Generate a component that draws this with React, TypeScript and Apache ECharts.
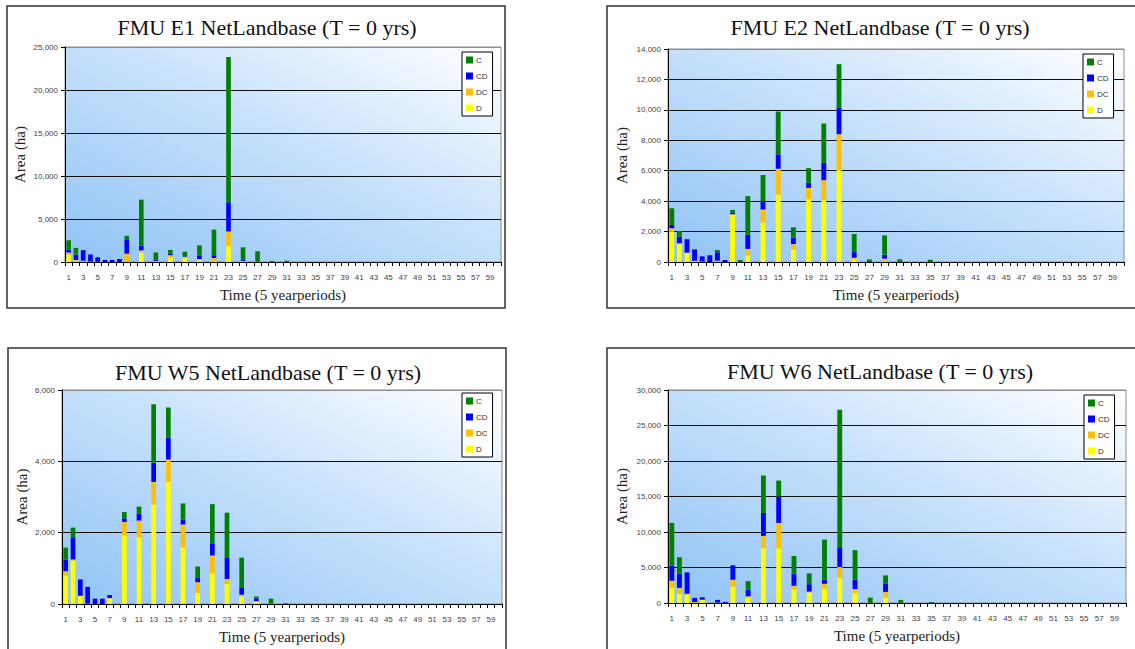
import React, { useEffect, useRef } from "react";
import * as echarts from "echarts";

// Five-year planning periods shown on every category axis
const PERIODS = [
  "1", "2", "3", "4", "5", "6", "7", "8", "9", "10",
  "11", "12", "13", "14", "15", "16", "17", "18", "19", "20",
  "21", "22", "23", "24", "25", "26", "27", "28", "29", "30",
  "31", "32", "33", "34", "35", "36", "37", "38", "39", "40",
  "41", "42", "43", "44", "45", "46", "47", "48", "49", "50",
  "51", "52", "53", "54", "55", "56", "57", "58", "59", "60",
];

const LEGEND_ORDER = ["C", "CD", "DC", "D"];
const STACK_ORDER = ["D", "DC", "CD", "C"];
const COLORS: Record<string, string> = {
  C: "#008000",
  CD: "#0000ff",
  DC: "#ffc000",
  D: "#ffff00",
};

// FMU E1 area (ha) by period; later periods are empty
const E1_D = [850, 60, 30, 0, 0, 0, 0, 0, 20, 0, 1100, 0, 20, 0, 550, 0, 450, 0, 200, 0, 70, 0, 1850, 0, 40, 0, 0, 0, 0, 0, 0, 0, 0, 0, 0];
const E1_DC = [250, 180, 120, 50, 30, 0, 0, 0, 950, 0, 250, 0, 100, 0, 250, 0, 150, 0, 150, 0, 400, 0, 1700, 0, 80, 0, 30, 0, 0, 0, 0, 0, 0, 0, 0];
const E1_CD = [330, 620, 1230, 820, 520, 230, 240, 350, 1600, 0, 550, 0, 110, 0, 150, 0, 50, 0, 360, 0, 320, 0, 3400, 0, 160, 0, 0, 0, 0, 0, 0, 0, 0, 0, 0];
const E1_C = [1100, 780, 0, 0, 0, 0, 0, 0, 470, 0, 5350, 0, 880, 0, 450, 0, 550, 0, 1230, 0, 2980, 0, 16900, 0, 1430, 0, 1220, 0, 120, 0, 150, 0, 0, 0, 0];

// FMU E2
const E2_D = [1980, 1180, 600, 50, 30, 0, 30, 0, 3110, 0, 430, 0, 2590, 0, 4420, 0, 810, 0, 4130, 0, 4050, 0, 6040, 0, 150, 0, 0, 0, 20, 0, 0, 0, 0, 0, 0];
const E2_DC = [240, 50, 15, 30, 0, 0, 60, 0, 30, 0, 430, 0, 860, 0, 1710, 0, 370, 0, 740, 0, 1330, 0, 2360, 0, 130, 0, 0, 0, 200, 0, 0, 0, 0, 0, 0];
const E2_CD = [220, 430, 880, 750, 340, 440, 550, 130, 110, 0, 930, 0, 530, 0, 950, 0, 420, 0, 340, 0, 1140, 0, 1720, 0, 370, 0, 0, 0, 260, 0, 30, 0, 0, 0, 50];
const E2_C = [1090, 380, 0, 0, 0, 0, 150, 0, 170, 130, 2540, 0, 1740, 0, 2810, 0, 680, 0, 960, 0, 2580, 0, 2880, 0, 1190, 0, 170, 0, 1270, 0, 150, 0, 0, 0, 100];

// FMU W5
const W5_D = [800, 1210, 230, 10, 0, 0, 150, 0, 1920, 0, 1870, 0, 2790, 0, 3420, 0, 1590, 0, 310, 0, 860, 0, 560, 0, 210, 0, 70, 0, 0, 0, 0];
const W5_DC = [120, 40, 0, 0, 0, 0, 20, 0, 380, 0, 470, 0, 630, 0, 630, 0, 640, 0, 300, 0, 500, 0, 140, 0, 50, 0, 10, 0, 10, 0, 0];
const W5_CD = [330, 600, 460, 470, 150, 150, 80, 0, 100, 0, 190, 0, 540, 0, 620, 0, 140, 0, 140, 0, 340, 0, 590, 0, 190, 0, 80, 0, 0, 0, 0];
const W5_C = [330, 290, 0, 0, 0, 0, 0, 0, 180, 0, 200, 0, 1640, 0, 840, 0, 450, 0, 300, 0, 1100, 0, 1270, 0, 850, 0, 50, 0, 140, 0, 20];

// FMU W6
const W6_D = [2190, 1300, 1130, 0, 470, 0, 0, 0, 2320, 0, 760, 0, 7710, 0, 7710, 0, 1900, 0, 1470, 0, 2030, 0, 3530, 0, 1390, 0, 0, 0, 760, 0, 0, 0, 0, 0, 0];
const W6_DC = [950, 830, 180, 140, 0, 0, 60, 0, 950, 0, 190, 0, 1740, 0, 3570, 0, 520, 0, 140, 0, 670, 0, 1550, 0, 570, 0, 20, 0, 800, 0, 0, 0, 0, 0, 0];
const W6_CD = [2120, 1980, 3000, 570, 330, 0, 370, 140, 1940, 0, 900, 0, 3240, 0, 3710, 0, 1720, 0, 1040, 0, 580, 0, 2770, 0, 1340, 0, 0, 0, 1140, 0, 30, 0, 0, 0, 50];
const W6_C = [6020, 2340, 0, 0, 0, 0, 0, 0, 140, 0, 1230, 0, 5260, 0, 2260, 0, 2480, 0, 1520, 0, 5650, 0, 19360, 0, 4150, 0, 740, 0, 1190, 0, 400, 0, 0, 0, 100];

const Y_NAME = "Area (ha)";
const X_NAME = "Time (5 yearperiods)";

type Panel = {
  title: string;
  series: number[][]; // D, DC, CD, C
  max: number;
  step: number;
  grid: { left: number; top: number; width: number; height: number };
  frame: [number, number, number, number];
  titlePos: [number, number];
  legendPos: [number, number];
  yNameGap: number;
};

const PANELS: Panel[] = [
  {
    title: "FMU E1 NetLandbase (T = 0 yrs)",
    series: [E1_D, E1_DC, E1_CD, E1_C],
    max: 25000,
    step: 5000,
    grid: { left: 65, top: 47, width: 436, height: 215 },
    frame: [7, 6, 498, 302],
    titlePos: [267, 27],
    legendPos: [462, 52],
    yNameGap: 38,
  },
  {
    title: "FMU E2 NetLandbase (T = 0 yrs)",
    series: [E2_D, E2_DC, E2_CD, E2_C],
    max: 14000,
    step: 2000,
    grid: { left: 668, top: 49, width: 456, height: 213 },
    frame: [607, 6, 560, 302],
    titlePos: [880, 27],
    legendPos: [1083, 54],
    yNameGap: 39,
  },
  {
    title: "FMU W5 NetLandbase (T = 0 yrs)",
    series: [W5_D, W5_DC, W5_CD, W5_C],
    max: 6000,
    step: 2000,
    grid: { left: 62, top: 390, width: 440, height: 214 },
    frame: [8, 348, 498, 330],
    titlePos: [268, 372],
    legendPos: [462, 393],
    yNameGap: 33,
  },
  {
    title: "FMU W6 NetLandbase (T = 0 yrs)",
    series: [W6_D, W6_DC, W6_CD, W6_C],
    max: 30000,
    step: 5000,
    grid: { left: 668, top: 390, width: 458, height: 213 },
    frame: [607, 348, 560, 330],
    titlePos: [880, 371],
    legendPos: [1084, 395],
    yNameGap: 39,
  },
];

const TICK_FONT = "Liberation Sans";
const TEXT_FONT = "Liberation Serif";

function buildOption() {
  const grids: any[] = [];
  const xAxes: any[] = [];
  const yAxes: any[] = [];
  const series: any[] = [];
  const legends: any[] = [];
  const graphics: any[] = [];

  PANELS.forEach((p, i) => {
    graphics.push({
      type: "rect",
      shape: { x: p.frame[0], y: p.frame[1], width: p.frame[2], height: p.frame[3] },
      style: { fill: "none", stroke: "#333", lineWidth: 1.5 },
      z: -10,
    });
    graphics.push({
      type: "text",
      x: p.titlePos[0],
      y: p.titlePos[1],
      style: {
        text: p.title,
        textAlign: "center",
        textVerticalAlign: "middle",
        fontFamily: TEXT_FONT,
        fontSize: 22,
        fill: "#111",
      },
    });

    grids.push({
      ...p.grid,
      show: true,
      borderColor: "#8c8c8c",
      borderWidth: 1,
      backgroundColor: new echarts.graphic.LinearGradient(0, 1, 1, 0, [
        { offset: 0, color: "#90c3f5" },
        { offset: 0.55, color: "#c8e2fb" },
        { offset: 1, color: "#ffffff" },
      ]),
    });

    const nLines = p.max / p.step + 1;
    const lineColors = Array.from({ length: nLines }, (_, k) =>
      k === nLines - 1 ? "#8c8c8c" : "#111"
    );

    xAxes.push({
      type: "category",
      gridIndex: i,
      data: PERIODS,
      name: X_NAME,
      nameLocation: "middle",
      nameGap: 25,
      nameTextStyle: { fontFamily: TEXT_FONT, fontSize: 15, color: "#222" },
      axisLine: { lineStyle: { color: "#000", width: 1 } },
      axisTick: { show: true, alignWithLabel: false, interval: 0, length: 4, lineStyle: { color: "#000" } },
      axisLabel: { interval: 1, margin: 11, fontFamily: TICK_FONT, fontSize: 8, color: "#444" },
      splitLine: { show: false },
    });

    yAxes.push({
      type: "value",
      gridIndex: i,
      min: 0,
      max: p.max,
      interval: p.step,
      name: Y_NAME,
      nameLocation: "middle",
      nameGap: p.yNameGap,
      nameTextStyle: { fontFamily: TEXT_FONT, fontSize: 15, color: "#222" },
      axisLine: { show: true, lineStyle: { color: "#000", width: 1 } },
      axisTick: { show: true, length: 4, lineStyle: { color: "#000" } },
      axisLabel: {
        margin: 7,
        fontFamily: TICK_FONT,
        fontSize: 8,
        color: "#444",
        formatter: (v: number) => v.toLocaleString("en-US"),
      },
      splitLine: { show: true, lineStyle: { color: lineColors, width: 1 } },
    });

    STACK_ORDER.forEach((name, k) => {
      series.push({
        name,
        type: "bar",
        xAxisIndex: i,
        yAxisIndex: i,
        stack: "panel" + i,
        data: p.series[k],
        barWidth: "64%",
        itemStyle: { color: COLORS[name] },
        emphasis: { disabled: true },
      });
    });

    legends.push({
      orient: "vertical",
      left: p.legendPos[0],
      top: p.legendPos[1],
      data: LEGEND_ORDER,
      icon: "rect",
      itemWidth: 7,
      itemHeight: 7,
      itemGap: 8,
      padding: [4, 5, 4, 4],
      backgroundColor: "#ffffff",
      borderColor: "#000",
      borderWidth: 1,
      selectedMode: false,
      textStyle: { fontFamily: TICK_FONT, fontSize: 8, color: "#333", padding: [0, 0, 0, -2] },
    });
  });

  return {
    animation: false,
    backgroundColor: "#ffffff",
    grid: grids,
    xAxis: xAxes,
    yAxis: yAxes,
    legend: legends,
    series,
    graphic: graphics,
  };
}

export default function App() {
  const ref = useRef<HTMLDivElement>(null);

  useEffect(() => {
    if (!ref.current) return;
    const chart = echarts.init(ref.current, null, { renderer: "svg" });
    chart.setOption(buildOption());
    return () => chart.dispose();
  }, []);

  return (
    <div
      ref={ref}
      style={{ position: "absolute", left: 0, top: 0, width: 1135, height: 649, overflow: "hidden" }}
    />
  );
}
